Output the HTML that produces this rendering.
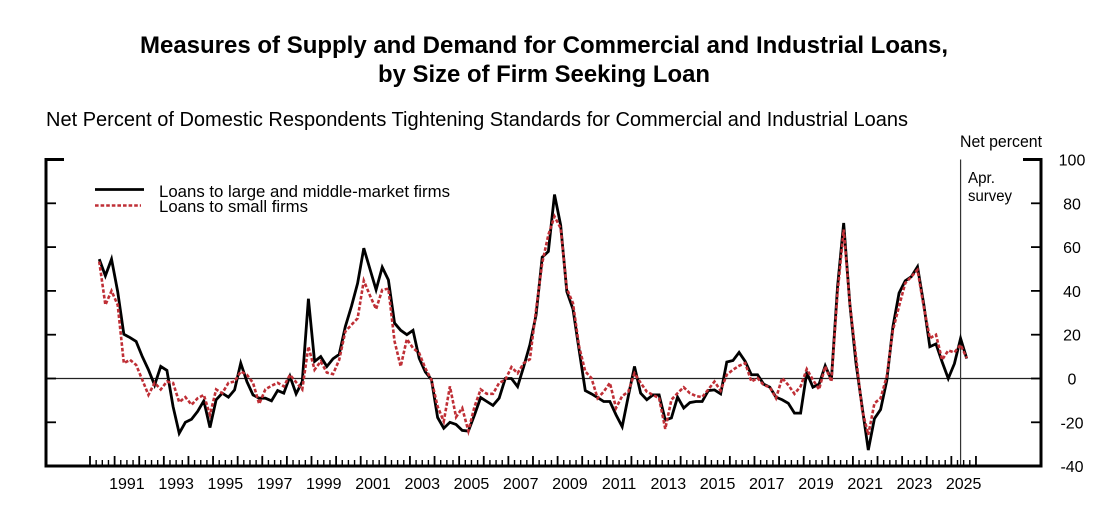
<!DOCTYPE html>
<html>
<head>
<meta charset="utf-8">
<title>Measures of Supply and Demand for Commercial and Industrial Loans</title>
<style>
html,body{margin:0;padding:0;background:#fff;}
svg{display:block;}
text{font-family:"Liberation Sans",Arial,sans-serif;fill:#000;}
</style>
</head>
<body>
<svg id="chart" xmlns="http://www.w3.org/2000/svg" width="1105" height="529" viewBox="0 0 1105 529">
  <text x="544" y="53" text-anchor="middle" font-size="24" font-weight="700" textLength="808" lengthAdjust="spacingAndGlyphs">Measures of Supply and Demand for Commercial and Industrial Loans,</text>
  <text x="544" y="82" text-anchor="middle" font-size="24" font-weight="700" textLength="332" lengthAdjust="spacingAndGlyphs">by Size of Firm Seeking Loan</text>
  <text x="46" y="126" font-size="20.5" textLength="862" lengthAdjust="spacingAndGlyphs">Net Percent of Domestic Respondents Tightening Standards for Commercial and Industrial Loans</text>
  <text x="960" y="147" font-size="16.5" textLength="82" lengthAdjust="spacingAndGlyphs">Net percent</text>
  <text x="968" y="183" font-size="15.5" textLength="27" lengthAdjust="spacingAndGlyphs">Apr.</text>
  <text x="968" y="201" font-size="15.5" textLength="44" lengthAdjust="spacingAndGlyphs">survey</text>

  <g id="axes"></g>
  <g id="series"></g>

  <g>
    <line x1="95" y1="189.5" x2="144" y2="189.5" stroke="#000" stroke-width="2.8"/>
    <text x="159" y="197" font-size="17" textLength="291" lengthAdjust="spacingAndGlyphs">Loans to large and middle-market firms</text>
    <line x1="95" y1="205.5" x2="141" y2="205.5" stroke="#bf2f36" stroke-width="2.6" stroke-dasharray="3.6 2"/>
    <text x="159" y="212" font-size="17" textLength="149" lengthAdjust="spacingAndGlyphs">Loans to small firms</text>
  </g>
</svg>
<script>
const firstQuarter = 1990.375;
const surveyDate = 2025.375;
const yearLabels = [1991,1993,1995,1997,1999,2001,2003,2005,2007,2009,2011,2013,2015,2017,2019,2021,2023,2025];
const yTickValues = [100,80,60,40,20,0,-20,-40];
const largeFirms = [
54.5,46.9,54.5,39.7,20.2,18.7,16.9,10,4,-3,5.5,3.7,-12.8,-25,-20,-18.6,-15,-10.2,-22.4,-9.7,
-6.7,-8.5,-5.2,7,-1.4,-7.5,-9,-9,-10.2,-5.5,-6.7,1,-7,-1.4,36.4,7.8,10,5.5,9,11,
23.7,33,43.5,59.5,50,40.5,50.8,45,25.3,22,20,22,9.3,3,-0.5,-17.8,-22.7,-20,-21,-23.7,
-24,-16.6,-8.7,-10.5,-12.3,-9,0,0,-3.7,5.5,15.4,29,55.4,58,84,70,39.7,31.7,13,-5.5,
-7,-8.7,-10.5,-10.5,-16.6,-22,-8,5.5,-6.7,-9.7,-7.5,-7.5,-19,-18,-8.5,-13.5,-11,-10.5,-10.5,-5.5,
-5.2,-7,7.5,8.2,11.9,7.8,1.7,1.7,-2.6,-4,-8.5,-9.7,-11.3,-15.8,-15.8,2.7,-4,-2.6,5.8,-0.6,
41.8,71,34,7,-13,-32.7,-18.3,-14.2,-1,23.6,39,44.6,46.5,51,34.2,14.5,15.8,7.6,0,6.8,
18.3,9.1
];
const smallFirms = [
53.4,33.6,40,33.6,7,8.5,6.2,-0.6,-7.5,-2,-5,-1.4,-2,-10.8,-8.5,-12,-9,-7.5,-16.6,-5,
-6.7,-2,-1.4,3.2,1.7,-2,-11.6,-5,-3.3,-2,-3.6,1.7,-1.7,-5,14.6,4,7.8,2.7,2,8.5,
21.5,24.5,27.5,44.7,37.9,31.7,40.5,41,17,5.5,18,13.9,11.6,4.7,-0.6,-12.8,-19.6,-3.6,-17.6,-13.5,
-24,-12.8,-5,-7,-7,-2,-0.6,5.2,2.4,7,8.8,31.4,52.7,65.6,74,68.6,41,34.4,14.6,3.2,
0.2,-9,-6,-2,-13.5,-8,-6,2.4,-2,-6,-7.5,-9,-23,-9.7,-6.7,-4,-6.7,-8,-8.5,-5,
-1.4,-5.5,1.7,4,5.8,7,-1.4,0.2,-3,-4,-9,0.2,-3,-7,-3.6,4.3,-0.6,-5,5.5,-1.4,
39,68,34.4,10,-14.3,-25.7,-11.3,-9,1,22,33,43.5,46.5,49.6,33,18.4,20,8.5,12.8,11.9,
15.4,9.3
];

const NS = 'http://www.w3.org/2000/svg';
const axes = document.getElementById('axes');
const series = document.getElementById('series');
const axisLeft = 46, axisRight = 1041, axisTop = 159.5, axisBottom = 466;
const xScale = t => 90 + (t - 1990) * 24.61;
const yScale = v => 378.5 - v * 2.19;

function mk(parent, tag, attrs, text) {
  const el = document.createElementNS(NS, tag);
  for (const k in attrs) el.setAttribute(k, attrs[k]);
  if (text !== undefined) el.textContent = text;
  parent.appendChild(el);
  return el;
}

/* zero line and survey marker */
const zeroLine = mk(axes, 'line', {x1: axisLeft, x2: axisRight, y1: yScale(0), y2: yScale(0), stroke: '#222', 'stroke-width': 1.2});


const surveyLine = mk(axes, 'line', {x1: xScale(surveyDate), x2: xScale(surveyDate), y1: axisTop, y2: axisBottom, stroke: '#333', 'stroke-width': 1.2});



/* axis frame */
const frame = mk(axes, 'path', {
  d: `M${axisLeft + 18} ${axisTop}H${axisLeft}V${axisBottom}H${axisRight}V${axisTop}H${axisRight - 18}`,
  fill: 'none', stroke: '#000', 'stroke-width': 3
});



/* y ticks and labels */
yTickValues.forEach(v => {
  const y = yScale(v);
  if (v !== 100 && v !== -40) {
    const l = mk(axes, 'line', {x1: axisLeft, x2: axisLeft + 10, y1: y, y2: y, stroke: '#000', 'stroke-width': 1.8});
    
    
    const r = mk(axes, 'line', {x1: axisRight - 10, x2: axisRight, y1: y, y2: y, stroke: '#000', 'stroke-width': 1.8});
    
    
  }
  const t = mk(axes, 'text', {x: 1072, y: y + 6, 'text-anchor': 'middle', 'font-size': 16}, String(v));
  
  
});

/* x ticks */
const startYear = 1990, endYear = 2026;
for (let t = startYear; t <= endYear; t += 0.25) {
  const major = Number.isInteger(t);
  const x = xScale(t);
  const tick = mk(axes, 'line', {x1: x, x2: x, y1: axisBottom, y2: major ? 456 : 460, stroke: '#000', 'stroke-width': major ? 1.8 : 1.4});
  
  
}
yearLabels.forEach(year => {
  const t = mk(axes, 'text', {x: xScale(year + 0.5), y: 489, 'text-anchor': 'middle', 'font-size': 16}, String(year));
  
  
});

/* series */
const toPath = values => values.map((v, i) =>
  (i ? 'L' : 'M') + xScale(firstQuarter + i * 0.25).toFixed(2) + ' ' + yScale(v).toFixed(2)).join('');

const largeLine = mk(series, 'path', {d: toPath(largeFirms), fill: 'none', stroke: '#000', 'stroke-width': 2.8, 'stroke-linejoin': 'miter'});


const smallLine = mk(series, 'path', {d: toPath(smallFirms), fill: 'none', stroke: '#bf2f36', 'stroke-width': 2.6, 'stroke-dasharray': '3.6 2'});


</script>
</body>
</html>
